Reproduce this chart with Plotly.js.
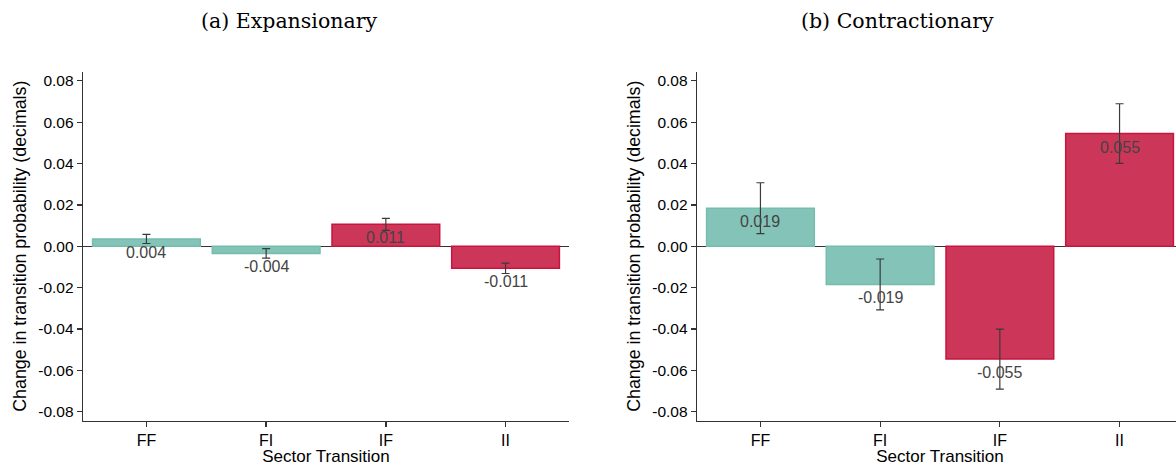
<!DOCTYPE html>
<html>
<head>
<meta charset="utf-8">
<script src="https://cdn.plot.ly/plotly-3.0.1.min.js"></script>
<style>
  html, body { margin: 0; padding: 0; overflow: hidden; background: #fff; }
  #chart { width: 1184px; height: 466px; }
</style>
</head>
<body>
<div id="chart"></div>
<script>
// ---- Data ----
const categories = ["FF", "FI", "IF", "II"];

const expValues = [0.0035, -0.0035, 0.0106, -0.0107];
const expErrors = [0.0022, 0.0023, 0.0029, 0.0025];
const expLabels = ["0.004", "-0.004", "0.011", "-0.011"];

const conValues = [0.0184, -0.0185, -0.0546, 0.0545];
const conErrors = [0.0123, 0.0123, 0.0145, 0.0144];
const conLabels = ["0.019", "-0.019", "-0.055", "0.055"];

const yTickVals = [-0.08, -0.06, -0.04, -0.02, 0.00, 0.02, 0.04, 0.06, 0.08];
const yTickText = ["-0.08", "-0.06", "-0.04", "-0.02", "0.00", "0.02", "0.04", "0.06", "0.08"];

const panelTitles = ["(a) Expansionary", "(b) Contractionary"];
const xTitle = "Sector Transition";
const yTitle = "Change in transition probability (decimals)";

// ---- Styles ----
const TEAL = "rgba(132,195,184,1)", TEAL_LINE = "#74bdad";
const RED = "rgba(204,55,89,1)", RED_LINE = "#c8143f";
const fillFor = c => c[0] === "F" ? TEAL : RED;
const lineFor = c => c[0] === "F" ? TEAL_LINE : RED_LINE;
const SANS = "Liberation Sans, Arial, sans-serif";

function barTrace(vals, errs, xa, ya) {
  return {
    type: "bar", x: categories, y: vals, xaxis: xa, yaxis: ya,
    width: 0.9,
    marker: { color: categories.map(fillFor), line: { color: categories.map(lineFor), width: 1.5 } },
    error_y: { type: "data", array: errs, visible: true, color: "#3a3a3a", thickness: 1.2, width: 4 },
    hoverinfo: "x+y", showlegend: false
  };
}
function valueLabels(vals, labels, xa, ya) {
  return categories.map((c, i) => ({
    x: c, y: vals[i], xref: xa, yref: ya, text: labels[i],
    showarrow: false, xanchor: "center", yanchor: "top", yshift: -3,
    font: { family: SANS, size: 16, color: "#444" }
  }));
}

const data = [
  barTrace(expValues, expErrors, "x", "y"),
  barTrace(conValues, conErrors, "x2", "y2")
];

const W = 1184, H = 466;
const yDom = [(H - 420.7) / H, (H - 71.7) / H];
const font = { family: SANS, color: "#000" };

function xAxis(domain, anchor) {
  return {
    domain: domain, anchor: anchor, type: "category", range: [-0.53, 3.53],
    showline: true, linecolor: "#333", linewidth: 1.3, mirror: false,
    ticks: "outside", ticklen: 5, tickcolor: "#333", tickwidth: 1.3,
    showgrid: false, zeroline: false,
    tickfont: Object.assign({ size: 16 }, font),
    title: { text: xTitle, font: Object.assign({ size: 17 }, font), standoff: 3 }
  };
}
function yAxis(anchor) {
  return {
    domain: yDom, anchor: anchor, range: [-0.0844, 0.0844],
    tickvals: yTickVals, ticktext: yTickText,
    showline: true, linecolor: "#333", linewidth: 1.3,
    ticks: "outside", ticklen: 5, tickcolor: "#333", tickwidth: 1.3,
    showgrid: false, zeroline: true, zerolinecolor: "#333", zerolinewidth: 1.3,
    tickfont: Object.assign({ size: 15.5 }, font),
    title: { text: yTitle, font: Object.assign({ size: 17.8 }, font), standoff: 7 }
  };
}

const titleFont = { family: "DejaVu Serif, serif", size: 20.5, color: "#000" };

const layout = {
  width: W, height: H,
  margin: { l: 0, r: 0, t: 0, b: 0 },
  paper_bgcolor: "#fff", plot_bgcolor: "#fff",
  xaxis: xAxis([83 / W, 569 / W], "y"),
  yaxis: yAxis("x"),
  xaxis2: xAxis([697 / W, 1183 / W], "y2"),
  yaxis2: yAxis("x2"),
  bargap: 0.1,
  annotations: [
    { text: panelTitles[0], xref: "paper", yref: "paper", x: 289 / W, y: (H - 21) / H,
      xanchor: "center", yanchor: "middle", showarrow: false, font: titleFont },
    { text: panelTitles[1], xref: "paper", yref: "paper", x: 897 / W, y: (H - 21) / H,
      xanchor: "center", yanchor: "middle", showarrow: false, font: titleFont }
  ].concat(valueLabels(expValues, expLabels, "x", "y"), valueLabels(conValues, conLabels, "x2", "y2"))
};

Plotly.newPlot("chart", data, layout, { displayModeBar: false, staticPlot: true });
</script>
</body>
</html>
